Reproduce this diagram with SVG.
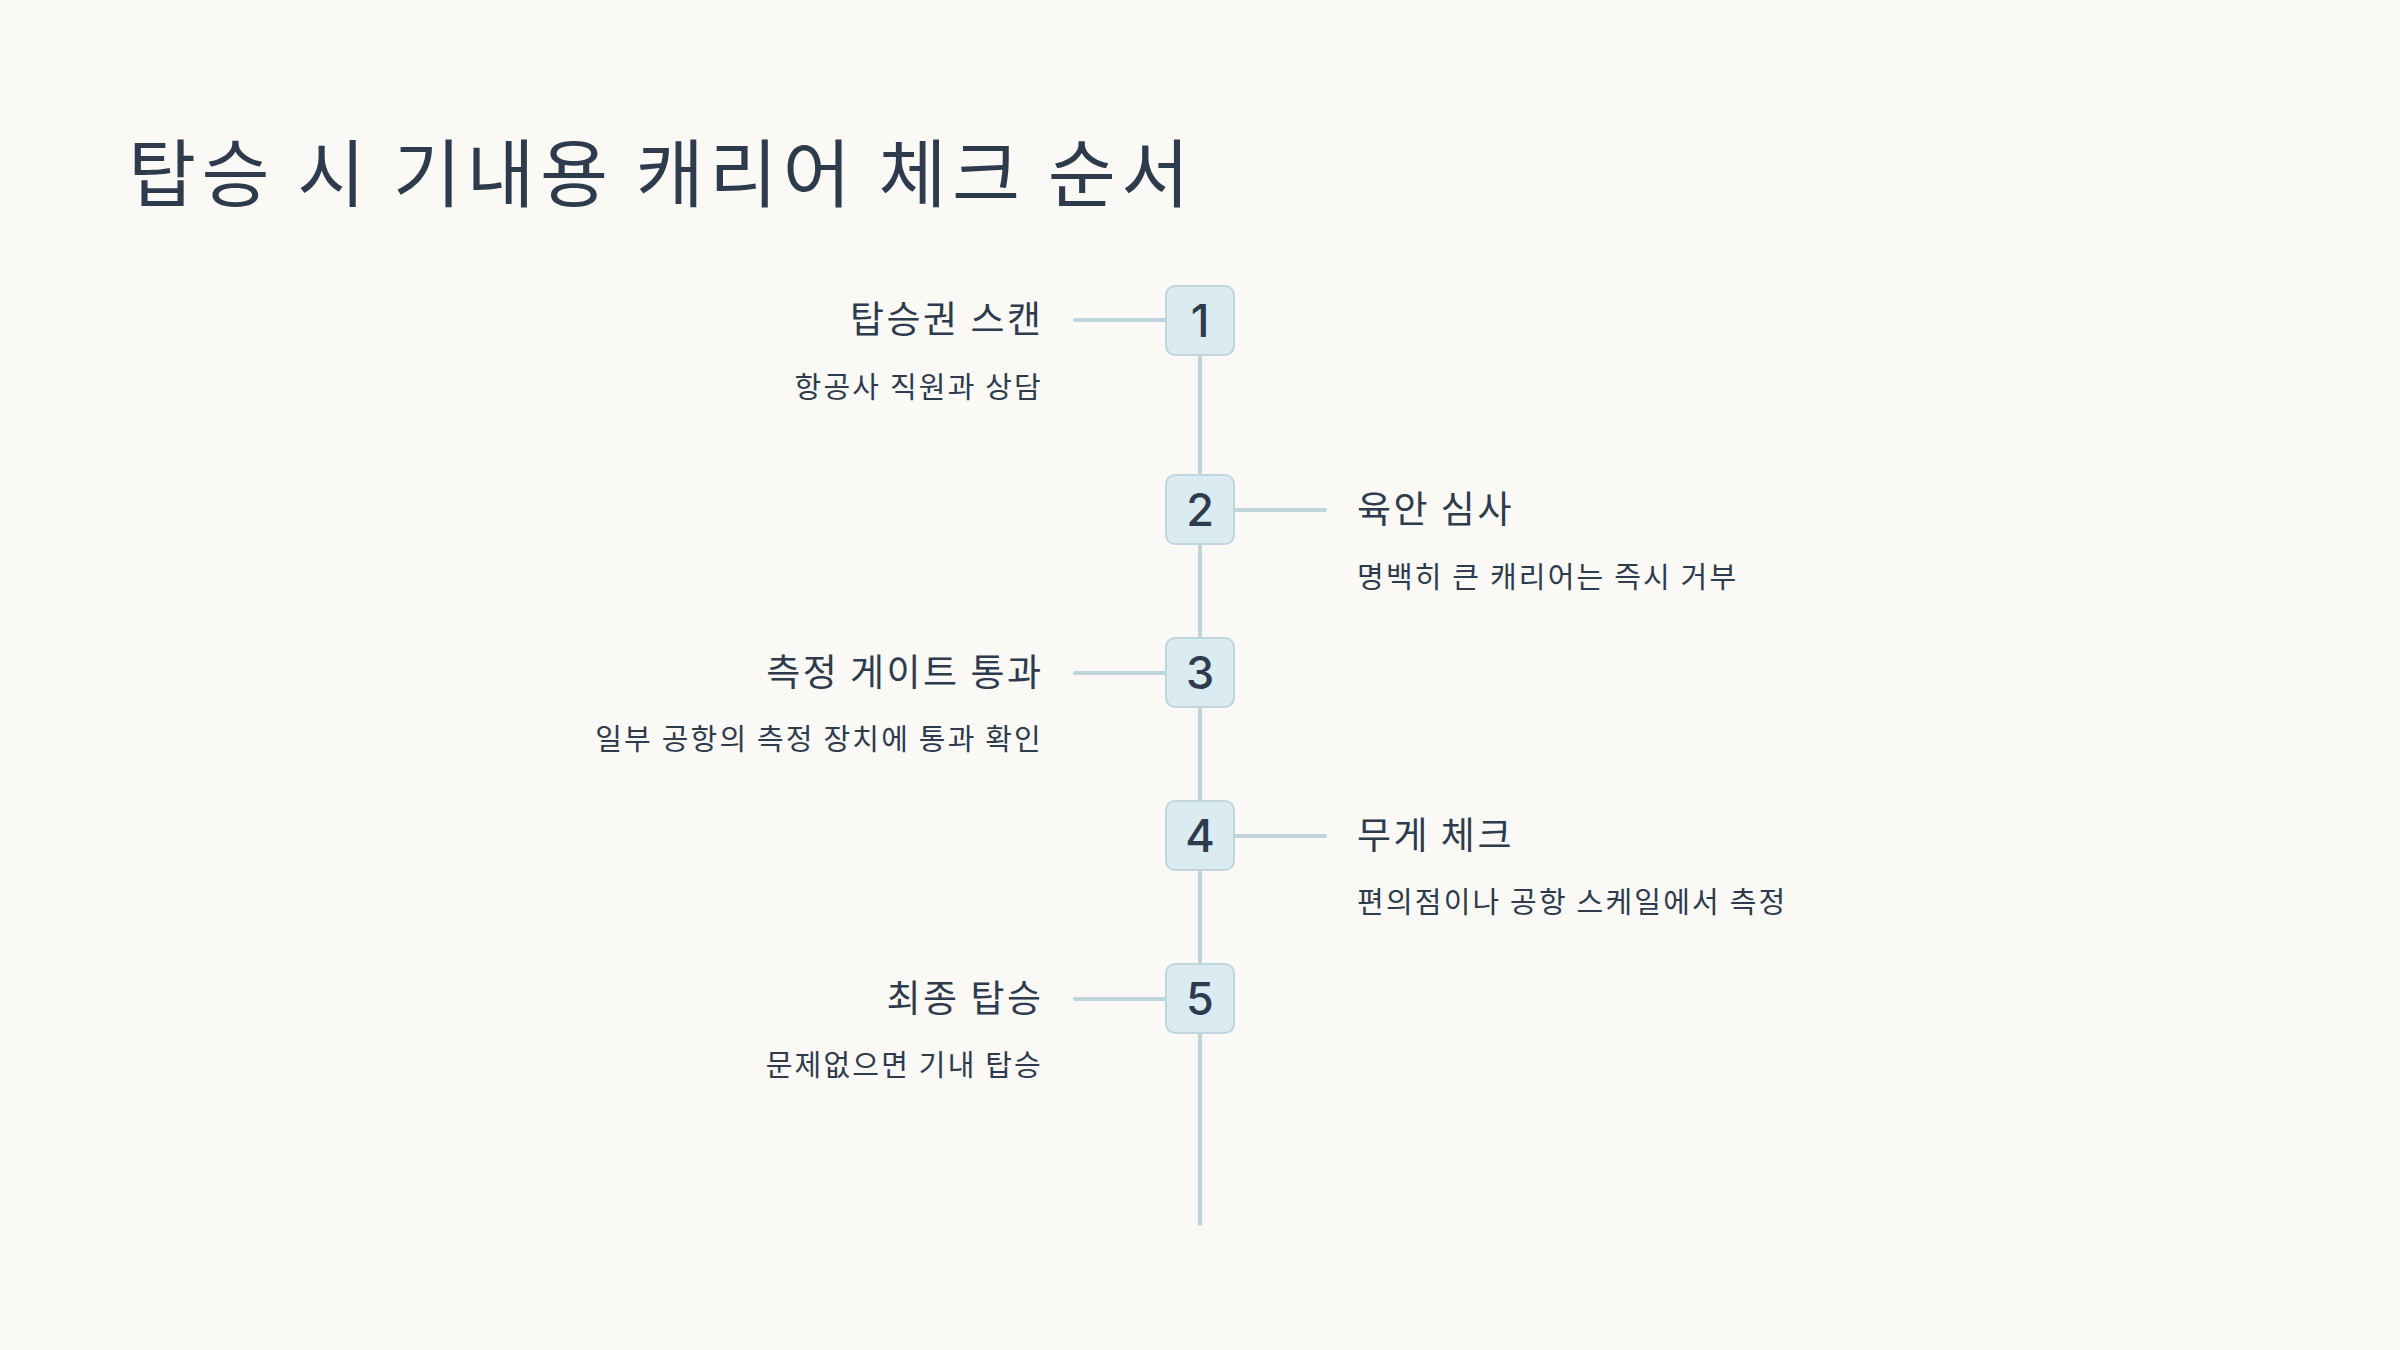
<svg xmlns="http://www.w3.org/2000/svg" width="2400" height="1350" viewBox="0 0 2400 1350">
<style>
.t{font-family:"Noto Sans CJK KR","Noto Sans",sans-serif;fill:#2E3B4C}
.title{font-size:74px;letter-spacing:5.5px}
.h{font-size:37px;letter-spacing:2.5px}
.d{font-size:29px;letter-spacing:2.2px}
.box{fill:#DAEBF1;stroke:#C0D5DC;stroke-width:2}
.num{font-family:Inter,"Liberation Sans",sans-serif;font-size:45px;font-weight:500;fill:#2E3B4C;text-anchor:middle}
.c{stroke:#C0D4DB;stroke-width:4;fill:none;stroke-linecap:round}
.r{text-anchor:end}
</style>
<rect width="2400" height="1350" fill="#FAF9F6"/>
<text class="t title" x="128" y="201">탑승 시 기내용 캐리어 체크 순서</text>
<g id="connectors">
<line class="c" x1="1200" y1="320" x2="1200" y2="1224"/>
<line class="c" x1="1075" y1="320" x2="1166" y2="320"/>
<line class="c" x1="1234" y1="510" x2="1325" y2="510"/>
<line class="c" x1="1075" y1="673" x2="1166" y2="673"/>
<line class="c" x1="1234" y1="836" x2="1325" y2="836"/>
<line class="c" x1="1075" y1="999" x2="1166" y2="999"/>
</g>
<g id="step1">
<rect class="box" x="1166" y="286" width="68" height="69" rx="9"/>
<text class="num" x="1200" y="337">1</text>
<text class="t h r" x="1043.5" y="333">탑승권 스캔</text>
<text class="t d r" x="1043" y="398">항공사 직원과 상담</text>
</g>
<g id="step2">
<rect class="box" x="1166" y="475" width="68" height="69" rx="9"/>
<text class="num" x="1200" y="526">2</text>
<text class="t h" x="1357" y="523">육안 심사</text>
<text class="t d" x="1357" y="588">명백히 큰 캐리어는 즉시 거부</text>
</g>
<g id="step3">
<rect class="box" x="1166" y="638" width="68" height="69" rx="9"/>
<text class="num" x="1200" y="689">3</text>
<text class="t h r" x="1043.5" y="686">측정 게이트 통과</text>
<text class="t d r" x="1043" y="750">일부 공항의 측정 장치에 통과 확인</text>
</g>
<g id="step4">
<rect class="box" x="1166" y="801" width="68" height="69" rx="9"/>
<text class="num" x="1200" y="852">4</text>
<text class="t h" x="1357" y="849">무게 체크</text>
<text class="t d" x="1357" y="913">편의점이나 공항 스케일에서 측정</text>
</g>
<g id="step5">
<rect class="box" x="1166" y="964" width="68" height="69" rx="9"/>
<text class="num" x="1200" y="1015">5</text>
<text class="t h r" x="1043.5" y="1012">최종 탑승</text>
<text class="t d r" x="1043" y="1076">문제없으면 기내 탑승</text>
</g>
</svg>
